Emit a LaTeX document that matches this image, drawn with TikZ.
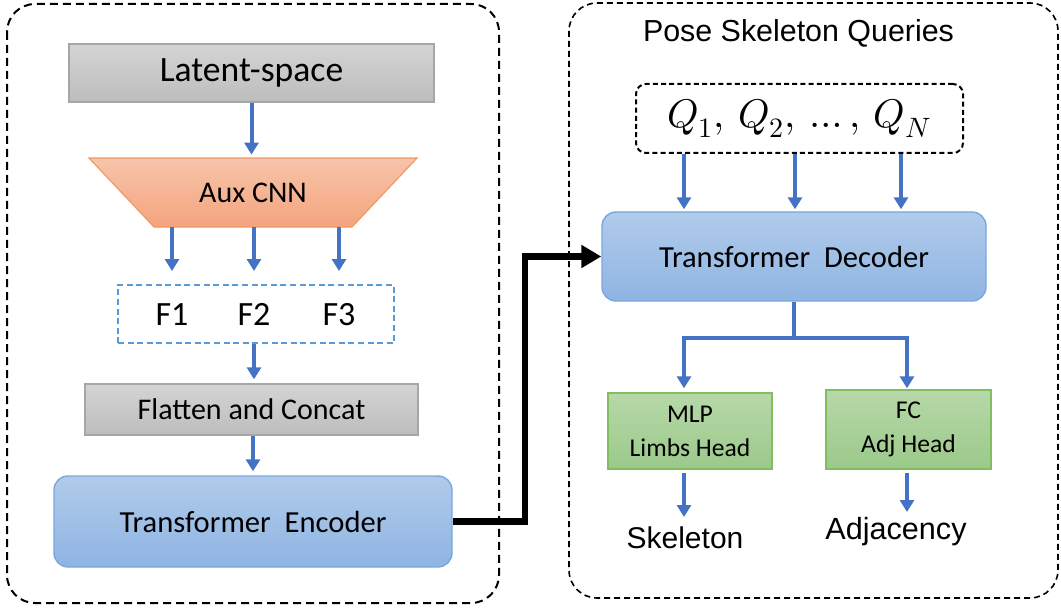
\documentclass[tikz,border=0pt]{standalone}
\usepackage{fontspec}
\usepackage{unicode-math}
\setmainfont{Carlito}
\setmathfont{Latin Modern Math}
\newfontfamily\arialf{Liberation Sans}
\usetikzlibrary{arrows.meta,calc}
\definecolor{arrblue}{HTML}{4472C4}
\definecolor{fblue}{HTML}{5B9BD5}
\definecolor{bluetop}{HTML}{B0CBEA}
\definecolor{bluebot}{HTML}{8FB4E3}
\definecolor{blueedge}{HTML}{7BA7DE}
\definecolor{orangetop}{HTML}{F7C4A9}
\definecolor{orangebot}{HTML}{F4A47F}
\definecolor{orangeedge}{HTML}{F29A63}
\definecolor{greentop}{HTML}{B7D8A9}
\definecolor{greenbot}{HTML}{9BC98A}
\definecolor{greenedge}{HTML}{82BE5F}
\definecolor{graytop}{HTML}{D4D4D4}
\definecolor{graybot}{HTML}{BDBDBD}
\definecolor{grayedge}{HTML}{A6A6A6}
\tikzset{
  arr/.style={draw=arrblue,line width=2pt,-{Triangle[length=6pt,width=7pt]}},
  blueline/.style={draw=arrblue,line width=2pt},
  graybox/.style={draw=grayedge,line width=0.7pt,top color=graytop,bottom color=graybot,inner sep=0pt},
  bluebox/.style={draw=blueedge,line width=0.7pt,rounded corners=7pt,top color=bluetop,bottom color=bluebot,inner sep=0pt},
  greenbox/.style={draw=greenedge,line width=0.7pt,top color=greentop,bottom color=greenbot,inner sep=0pt,align=center},
  container/.style={draw=black,line width=1pt,dash pattern=on 4pt off 2.5pt,rounded corners=14pt},
  txt/.style={inner sep=0pt}
}
\begin{document}
\begin{tikzpicture}[x=0.5pt,y=-0.5pt]
\useasboundingbox (0,0) rectangle (1061,610);
% containers
\draw[container] (7,4) rectangle (499,603);
\draw[container,line width=0.8pt,dash pattern=on 3pt off 2pt] (569,3) rectangle (1058,598);
% left column
\node[graybox,minimum width=182.5pt,minimum height=29pt,font=\fontsize{17.8}{20}\selectfont] (latent) at (251.5,73) {Latent-space};
\shade[top color=orangetop,bottom color=orangebot,draw=orangeedge,line width=0.6pt] (89,158) -- (417,158) -- (352,227) -- (154,227) -- cycle;
\node[txt,minimum width=99pt,minimum height=34.5pt,font=\fontsize{15}{17}\selectfont] (cnn) at (253,192.5) {Aux CNN};
\node[draw=fblue,line width=1pt,dash pattern=on 3pt off 1.8pt,minimum width=138pt,minimum height=29pt,inner sep=0pt] (fbox) at (256,314) {};
\node[txt,anchor=base,font=\fontsize{17}{20}\selectfont] (f1) at (172,325) {F1};
\node[txt,anchor=base,font=\fontsize{17}{20}\selectfont] (f2) at (254,325) {F2};
\node[txt,anchor=base,font=\fontsize{17}{20}\selectfont] (f3) at (339,325) {F3};
\node[graybox,minimum width=166.5pt,minimum height=25.5pt,font=\fontsize{15}{18}\selectfont] (flat) at (251.5,409.5) {Flatten and Concat};
\node[bluebox,minimum width=199pt,minimum height=45.5pt,font=\fontsize{15.3}{18}\selectfont] (enc) at (253,521.5) {Transformer\ \ Encoder};
% left arrows
\draw[arr] (latent.south) -- ([yshift=1.5pt]cnn.north -| latent.south);
\foreach \f in {f1,f2,f3}{\draw[arr] (cnn.south -| \f) -- ([yshift=6.5pt]fbox.north -| \f);}
\draw[arr] (fbox.south -| f2) -- ([yshift=2pt]flat.north -| f2);
\draw[arr] (flat.south -| enc.north) -- ([yshift=2pt]enc.north);
% right column
\node[txt,font=\arialf\fontsize{15.2}{18}\selectfont] (pose) at (798.5,33) {Pose Skeleton Queries};
\node[draw=black,line width=1pt,dash pattern=on 2.5pt off 1.6pt,rounded corners=5pt,minimum width=163.5pt,minimum height=34.5pt,inner sep=0pt,font=\fontsize{20}{24}\selectfont] (qbox) at (799.5,118.5) {$Q_1,\,Q_2,\,\ldots,\,Q_N$};
\node[bluebox,minimum width=192pt,minimum height=44.5pt,font=\fontsize{15.3}{18}\selectfont] (dec) at (794,256.5) {Transformer\ \ Decoder};
\coordinate (qa) at (684,0);
\coordinate (qb) at (795,0);
\coordinate (qc) at (901,0);
\foreach \q in {qa,qb,qc}{\draw[arr] (qbox.south -| \q) -- ([yshift=1pt]dec.north -| \q);}
\node[greenbox,minimum width=82pt,minimum height=38pt,font=\fontsize{12.8}{17}\selectfont] (mlp) at (690,431) {MLP\\Limbs Head};
\node[greenbox,minimum width=82.5pt,minimum height=39.5pt,font=\fontsize{12.8}{17}\selectfont] (fc) at (908.5,429.5) {FC\\Adj Head};
\coordinate (jl) at (684,338);
\coordinate (jr) at (907,338);
\draw[blueline] (dec.south) -- (dec.south |- jl);
\draw[draw=arrblue,line width=2pt,{Triangle[length=6pt,width=7pt]}-{Triangle[length=6pt,width=7pt]}] ([yshift=2pt]mlp.north -| jl) |- (jr) -- ([yshift=0.5pt]fc.north -| jr);
\node[txt,anchor=north,font=\arialf\fontsize{15}{18}\selectfont] (skel) at (685,526) {Skeleton};
\node[txt,anchor=north,font=\arialf\fontsize{15.3}{18}\selectfont] (adj) at (896,517) {Adjacency};
\draw[arr] ([yshift=-1.5pt]mlp.south -| jl) -- ([yshift=4.5pt]skel.north -| jl);
\draw[arr] ([yshift=-1.5pt]fc.south -| jr) -- ([yshift=2.5pt]adj.north -| jr);
% black connector
\coordinate (bend) at (525,0);
\draw[line width=3.25pt,-{Triangle[length=10pt,width=11pt]}] (enc.east) -| (bend |- dec.west) -- (dec.west);
\end{tikzpicture}
\end{document}
